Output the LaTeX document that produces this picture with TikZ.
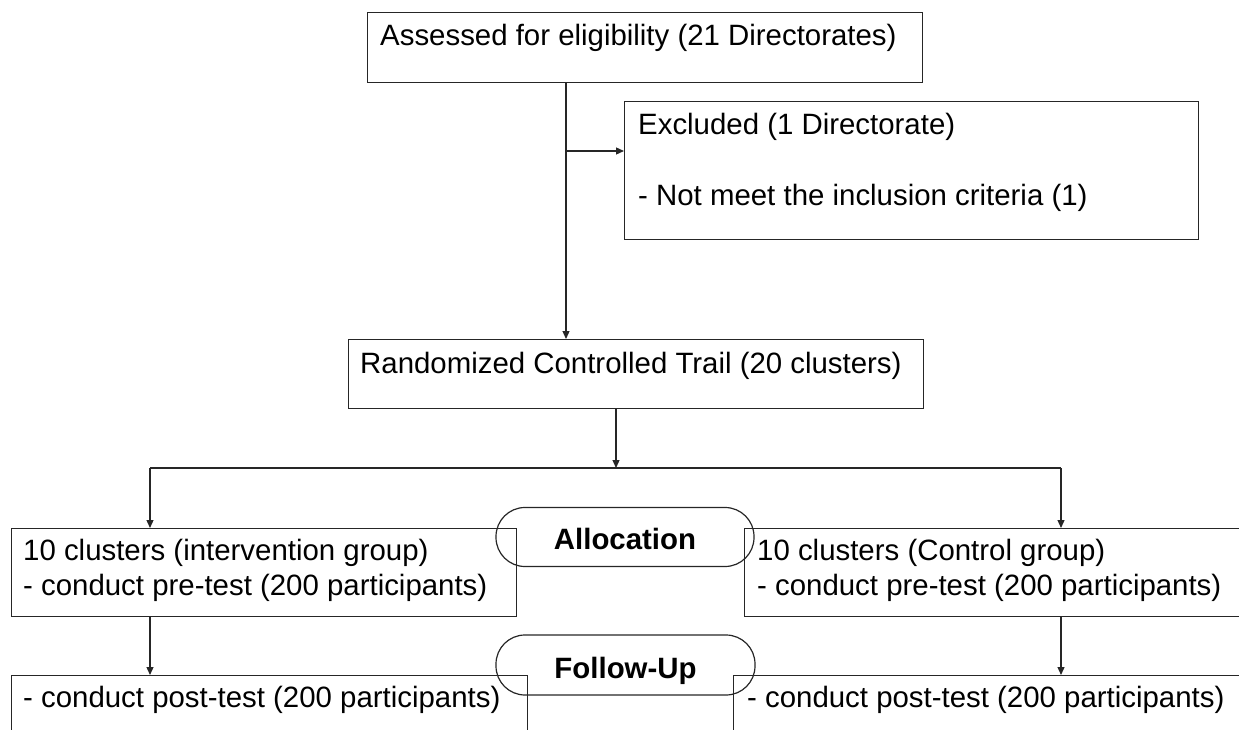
\documentclass[tikz,border=0pt]{standalone}
\usepackage{fontspec}
\setmainfont{Liberation Sans}
\usetikzlibrary{arrows.meta,calc}
\begin{document}
\begin{tikzpicture}[x=1pt,y=-1pt,
  box/.style={draw=black!85, line width=1.3pt, rectangle, inner sep=0pt, anchor=north west},
  txt/.style={inner sep=0pt, anchor=base west, font=\fontsize{29.4}{34}\selectfont},
  btxt/.style={inner sep=0pt, anchor=base, font=\fontsize{29.4}{34}\selectfont\bfseries},
  pill/.style={draw=black!85, line width=1.2pt, rectangle, rounded corners=29pt, inner sep=0pt},
  arr/.style={draw=black!85, line width=1.3pt, -{Triangle[length=8pt,width=7pt]}},
  ln/.style={draw=black!85, line width=1.3pt}]
\useasboundingbox (0,0) rectangle (1239,730);
\clip (0,0) rectangle (1239,730);
% boxes
\node[box, minimum width=555pt, minimum height=70pt] (assess) at (367,12) {};
\node[txt] (assessT) at (380,46) {Assessed for eligibility (21 Directorates)};
\node[box, minimum width=574pt, minimum height=138pt] (excl) at (624,101) {};
\node[txt] (exclT1) at (638,135) {Excluded (1 Directorate)};
\node[txt] (exclT2) at (638,205) {- Not meet the inclusion criteria (1)};
\node[box, minimum width=575pt, minimum height=69pt] (rct) at (348,339) {};
\node[txt] (rctT) at (360,373) {Randomized Controlled Trail (20 clusters)};
\node[box, minimum width=505pt, minimum height=88pt] (lbox) at (11,528) {};
\node[txt] (lT1) at (23,560) {10 clusters (intervention group)};
\node[txt] (lT2) at (23,595) {- conduct pre-test (200 participants)};
\node[box, minimum width=530pt, minimum height=88pt] (rbox) at (744,528) {};
\node[txt] (rT1) at (757,560) {10 clusters (Control group)};
\node[txt] (rT2) at (757,595) {- conduct pre-test (200 participants)};
\node[box, minimum width=516pt, minimum height=100pt] (lbb) at (11,675) {};
\node[txt] (lbT) at (23,707) {- conduct post-test (200 participants)};
\node[box, minimum width=540pt, minimum height=100pt] (rbb) at (733,675) {};
\node[txt] (rbT) at (747,707) {- conduct post-test (200 participants)};
\node[pill, minimum width=258pt, minimum height=59pt] (alloc) at (625,537) {};
\node[btxt] (allocT) at (625,549) {Allocation};
\node[pill, minimum width=259pt, minimum height=60pt] (fu) at (625.5,665) {};
\node[btxt] (fuT) at (625.5,678) {Follow-Up};
% connectors
\coordinate (s1) at ($(assess.south west)+(199,0)$);
\draw[arr] (s1) -- (s1 |- rct.north);
\coordinate (b1) at (566,151);
\draw[arr] (b1) -- (b1 -| excl.west);
\coordinate (s2) at (616,408);
\coordinate (sp) at (616,468);
\draw[arr] (s2) -- (sp);
\coordinate (hl) at (150,468);
\coordinate (hr) at (1061,468);
\draw[ln] (hl) -- (hr);
\draw[arr] (hl) -- (hl |- lbox.north);
\draw[arr] (hr) -- (hr |- rbox.north);
\draw[arr] (hl |- lbox.south) -- (hl |- lbb.north);
\draw[arr] (hr |- rbox.south) -- (hr |- rbb.north);
\end{tikzpicture}
\end{document}
